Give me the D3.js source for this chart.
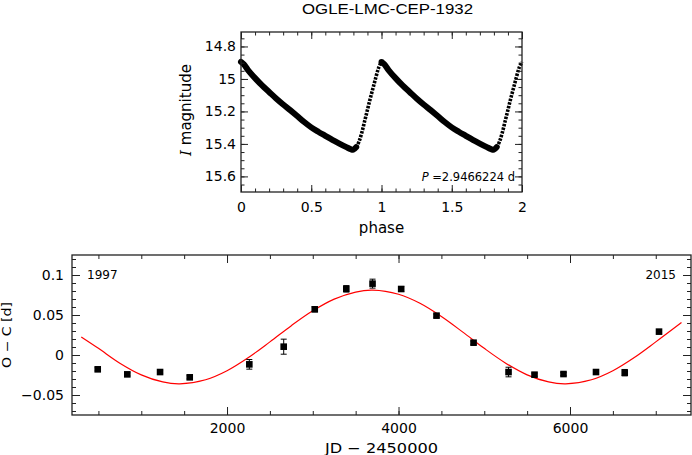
<!DOCTYPE html>
<html>
<head>
<meta charset="utf-8">
<script src="https://cdn.jsdelivr.net/npm/d3@7"></script>
<style>
  body { margin: 0; background: #fff; }
  svg text { font-family: "DejaVu Sans", sans-serif; fill: #000; }
</style>
</head>
<body>
<div id="chart"></div>
<script>
// light curve template (one cycle), plotted at phase and phase+1
var phaseTpl = [0.00, 0.02, 0.05, 0.10, 0.15, 0.20, 0.25, 0.30, 0.35, 0.40, 0.45, 0.50, 0.55, 0.60, 0.65, 0.70, 0.75, 0.78, 0.80, 0.82, 0.84, 0.86, 0.88, 0.90, 0.92, 0.94, 0.96, 0.98, 1.00];
var magTpl = [14.895, 14.91, 14.945, 14.995, 15.04, 15.08, 15.12, 15.157, 15.192, 15.228, 15.265, 15.298, 15.325, 15.35, 15.375, 15.398, 15.42, 15.432, 15.435, 15.42, 15.385, 15.33, 15.26, 15.19, 15.12, 15.055, 14.99, 14.93, 14.895];

// O-C measurements
var jdObs = [492, 837, 1219, 1565, 2260, 2661, 3023, 3391, 3697, 4031, 4443, 4875, 5283, 5586, 5924, 6303, 6638, 7038];
var ocObs = [-0.0179, -0.0242, -0.0213, -0.0279, -0.0117, 0.0104, 0.0571, 0.0827, 0.0892, 0.0825, 0.0492, 0.0154, -0.0213, -0.0246, -0.0238, -0.0213, -0.0221, 0.0292];
var ocErr = [0.002, 0.002, 0.002, 0.002, 0.006, 0.0094, 0.003, 0.004, 0.0056, 0.003, 0.002, 0.002, 0.006, 0.002, 0.002, 0.002, 0.004, 0.002];

// fitted curve
var jdFit = [300, 500, 750, 1000, 1250, 1450, 1750, 2000, 2250, 2500, 2750, 3000, 3250, 3500, 3700, 4000, 4250, 4500, 4750, 5000, 5250, 5500, 5750, 5950, 6250, 6500, 6750, 7000, 7300];
var ocFit = [0.0225, 0.0083, -0.0102, -0.0248, -0.0337, -0.036, -0.0309, -0.0196, -0.0031, 0.0164, 0.0367, 0.0552, 0.0698, 0.0787, 0.081, 0.0759, 0.0646, 0.0481, 0.0286, 0.0083, -0.0102, -0.0248, -0.0337, -0.036, -0.0309, -0.0196, -0.0031, 0.0164, 0.0406];

var yearLabels = ["1997", "2015"];

var svg = d3.select("#chart").append("svg")
  .attr("width", 692)
  .attr("height", 455);

// draws ticks on all four sides, pointing inward
function frameAxes(g, x, y, w, h, xt, yt, majLen, minLen) {
  var sides = [
    {ax: d3.axisBottom(x), tr: "translate(0," + h + ")", t: xt, lab: true},
    {ax: d3.axisTop(x), tr: "translate(0,0)", t: xt, lab: false},
    {ax: d3.axisLeft(y), tr: "translate(0,0)", t: yt, lab: true},
    {ax: d3.axisRight(y), tr: "translate(" + w + ",0)", t: yt, lab: false}
  ];
  sides.forEach(function(sd) {
    g.append("g").attr("transform", sd.tr)
      .call(sd.ax.tickValues(sd.t.minor).tickSize(-minLen).tickFormat(""))
      .call(function(a) { a.select(".domain").remove(); });
    var ma = g.append("g").attr("transform", sd.tr)
      .call(sd.ax.tickValues(sd.t.major).tickSize(-majLen).tickFormat(sd.lab ? sd.t.fmt : ""))
      .call(function(a) { a.select(".domain").remove(); });
    ma.selectAll("text").style("font-family", "DejaVu Sans").style("font-size", "14px");
    sd.t.style(ma);
  });
  g.selectAll(".tick line").attr("stroke", "#222").attr("stroke-width", 1);
  g.append("rect").attr("width", w).attr("height", h)
    .attr("fill", "none").attr("stroke", "#222").attr("stroke-width", 1.3);
}

// ---------- top panel: light curve ----------
var t = {left: 241, top: 32, w: 281, h: 160};
var gt = svg.append("g").attr("transform", "translate(" + t.left + "," + t.top + ")");
var xp = d3.scaleLinear().domain([0, 2]).range([0, t.w]);
var ym = d3.scaleLinear().domain([14.711, 15.696]).range([0, t.h]);

var lc = [];
[0, 1].forEach(function(k) {
  phaseTpl.forEach(function(p, i) { lc.push({p: p + k, m: magTpl[i]}); });
});
var lineLc = d3.line().x(function(d) { return xp(d.p); }).y(function(d) { return ym(d.m); }).curve(d3.curveCatmullRom);

[0, 1].forEach(function(k) {
  var dec = lc.filter(function(d) { return d.p >= k && d.p <= k + 0.82; });
  var ris = lc.filter(function(d) { return d.p >= k + 0.8 && d.p <= k + 1; });
  gt.append("path").attr("d", lineLc(dec)).attr("fill", "none")
    .attr("stroke", "#000").attr("stroke-width", 6).attr("stroke-linecap", "round");
  gt.append("path").attr("d", lineLc(ris)).attr("fill", "none")
    .attr("stroke", "#000").attr("stroke-width", 3.6).attr("stroke-dasharray", "2.5,1.2");
});

frameAxes(gt, xp, ym, t.w, t.h,
  {major: [0, 0.5, 1, 1.5, 2], minor: d3.range(0, 2.001, 0.1), fmt: d3.format("~g"),
   style: function(a) { a.selectAll("text").attr("y", 10); }},
  {major: [14.8, 15, 15.2, 15.4, 15.6], minor: d3.range(14.75, 15.7, 0.05), fmt: d3.format("~g"),
   style: function(a) { a.selectAll("text").attr("x", -5); }},
  7, 3.5);

svg.append("text").attr("x", 387.5).attr("y", 14).attr("text-anchor", "middle")
  .style("font-family", "Liberation Sans").style("font-size", "14px")
  .attr("textLength", 171).attr("lengthAdjust", "spacingAndGlyphs")
  .text("OGLE-LMC-CEP-1932");

svg.append("text").attr("x", t.left + t.w / 2).attr("y", 233).attr("text-anchor", "middle")
  .style("font-size", "15px").text("phase");

var yl = svg.append("text").attr("transform", "translate(191,110) rotate(-90)")
  .attr("text-anchor", "middle").style("font-size", "15px");
yl.append("tspan").style("font-family", "DejaVu Serif").style("font-style", "italic").text("I");
yl.append("tspan").text(" magnitude");

var pl = svg.append("text").attr("x", 515).attr("y", 181).attr("text-anchor", "end")
  .style("font-size", "11.5px");
pl.append("tspan").style("font-style", "italic").text("P");
pl.append("tspan").text(" =2.9466224 d");

// ---------- bottom panel: O-C ----------
var b = {left: 72, top: 255, w: 619, h: 160};
var gb = svg.append("g").attr("transform", "translate(" + b.left + "," + b.top + ")");
var xj = d3.scaleLinear().domain([192, 7411]).range([0, b.w]);
var yo = d3.scaleLinear().domain([-0.075, 0.125]).range([b.h, 0]);

var fit = jdFit.map(function(j, i) { return {j: j, v: ocFit[i]}; });
gb.append("path")
  .attr("d", d3.line().x(function(d) { return xj(d.j); }).y(function(d) { return yo(d.v); }).curve(d3.curveCatmullRom)(fit))
  .attr("fill", "none").attr("stroke", "#f00").attr("stroke-width", 1.2);

var obs = jdObs.map(function(j, i) { return {j: j, v: ocObs[i], e: ocErr[i]}; });
var eb = gb.selectAll(".eb").data(obs).enter().append("g").attr("class", "eb");
eb.append("line")
  .attr("x1", function(d) { return xj(d.j); }).attr("x2", function(d) { return xj(d.j); })
  .attr("y1", function(d) { return yo(d.v + d.e); }).attr("y2", function(d) { return yo(d.v - d.e); })
  .attr("stroke", "#000").attr("stroke-width", 1);
[1, -1].forEach(function(sg) {
  eb.append("line")
    .attr("x1", function(d) { return xj(d.j) - 3; }).attr("x2", function(d) { return xj(d.j) + 3; })
    .attr("y1", function(d) { return yo(d.v + sg * d.e); }).attr("y2", function(d) { return yo(d.v + sg * d.e); })
    .attr("stroke", "#000").attr("stroke-width", 1);
});
gb.selectAll(".pt").data(obs).enter().append("rect").attr("class", "pt")
  .attr("x", function(d) { return xj(d.j) - 3.3; })
  .attr("y", function(d) { return yo(d.v) - 3.3; })
  .attr("width", 6.6).attr("height", 6.6).attr("fill", "#000");

frameAxes(gb, xj, yo, b.w, b.h,
  {major: [2000, 4000, 6000], minor: d3.range(500, 7401, 500), fmt: d3.format("d"),
   style: function(a) { a.selectAll("text").attr("y", 8); }},
  {major: [-0.05, 0, 0.05, 0.1], minor: d3.range(-0.07, 0.125, 0.01), fmt: function(d) { return d3.format("~g")(d).replace("-", "\u2212"); },
   style: function(a) { a.selectAll("text").attr("x", -8); }},
  8, 4);

gb.append("text").attr("x", 15).attr("y", 24).style("font-size", "12px").text(yearLabels[0]);
gb.append("text").attr("x", b.w - 15).attr("y", 24).attr("text-anchor", "end").style("font-size", "12px").text(yearLabels[1]);

svg.append("text").attr("x", b.left + b.w / 2).attr("y", 453).attr("text-anchor", "middle")
  .style("font-size", "14px").attr("textLength", 113).attr("lengthAdjust", "spacingAndGlyphs")
  .text("JD \u2212 2450000");
svg.append("text").attr("transform", "translate(11,335) rotate(-90)").attr("text-anchor", "middle")
  .style("font-size", "12px").attr("textLength", 66).attr("lengthAdjust", "spacingAndGlyphs")
  .text("O \u2212 C [d]");
</script>
</body>
</html>
